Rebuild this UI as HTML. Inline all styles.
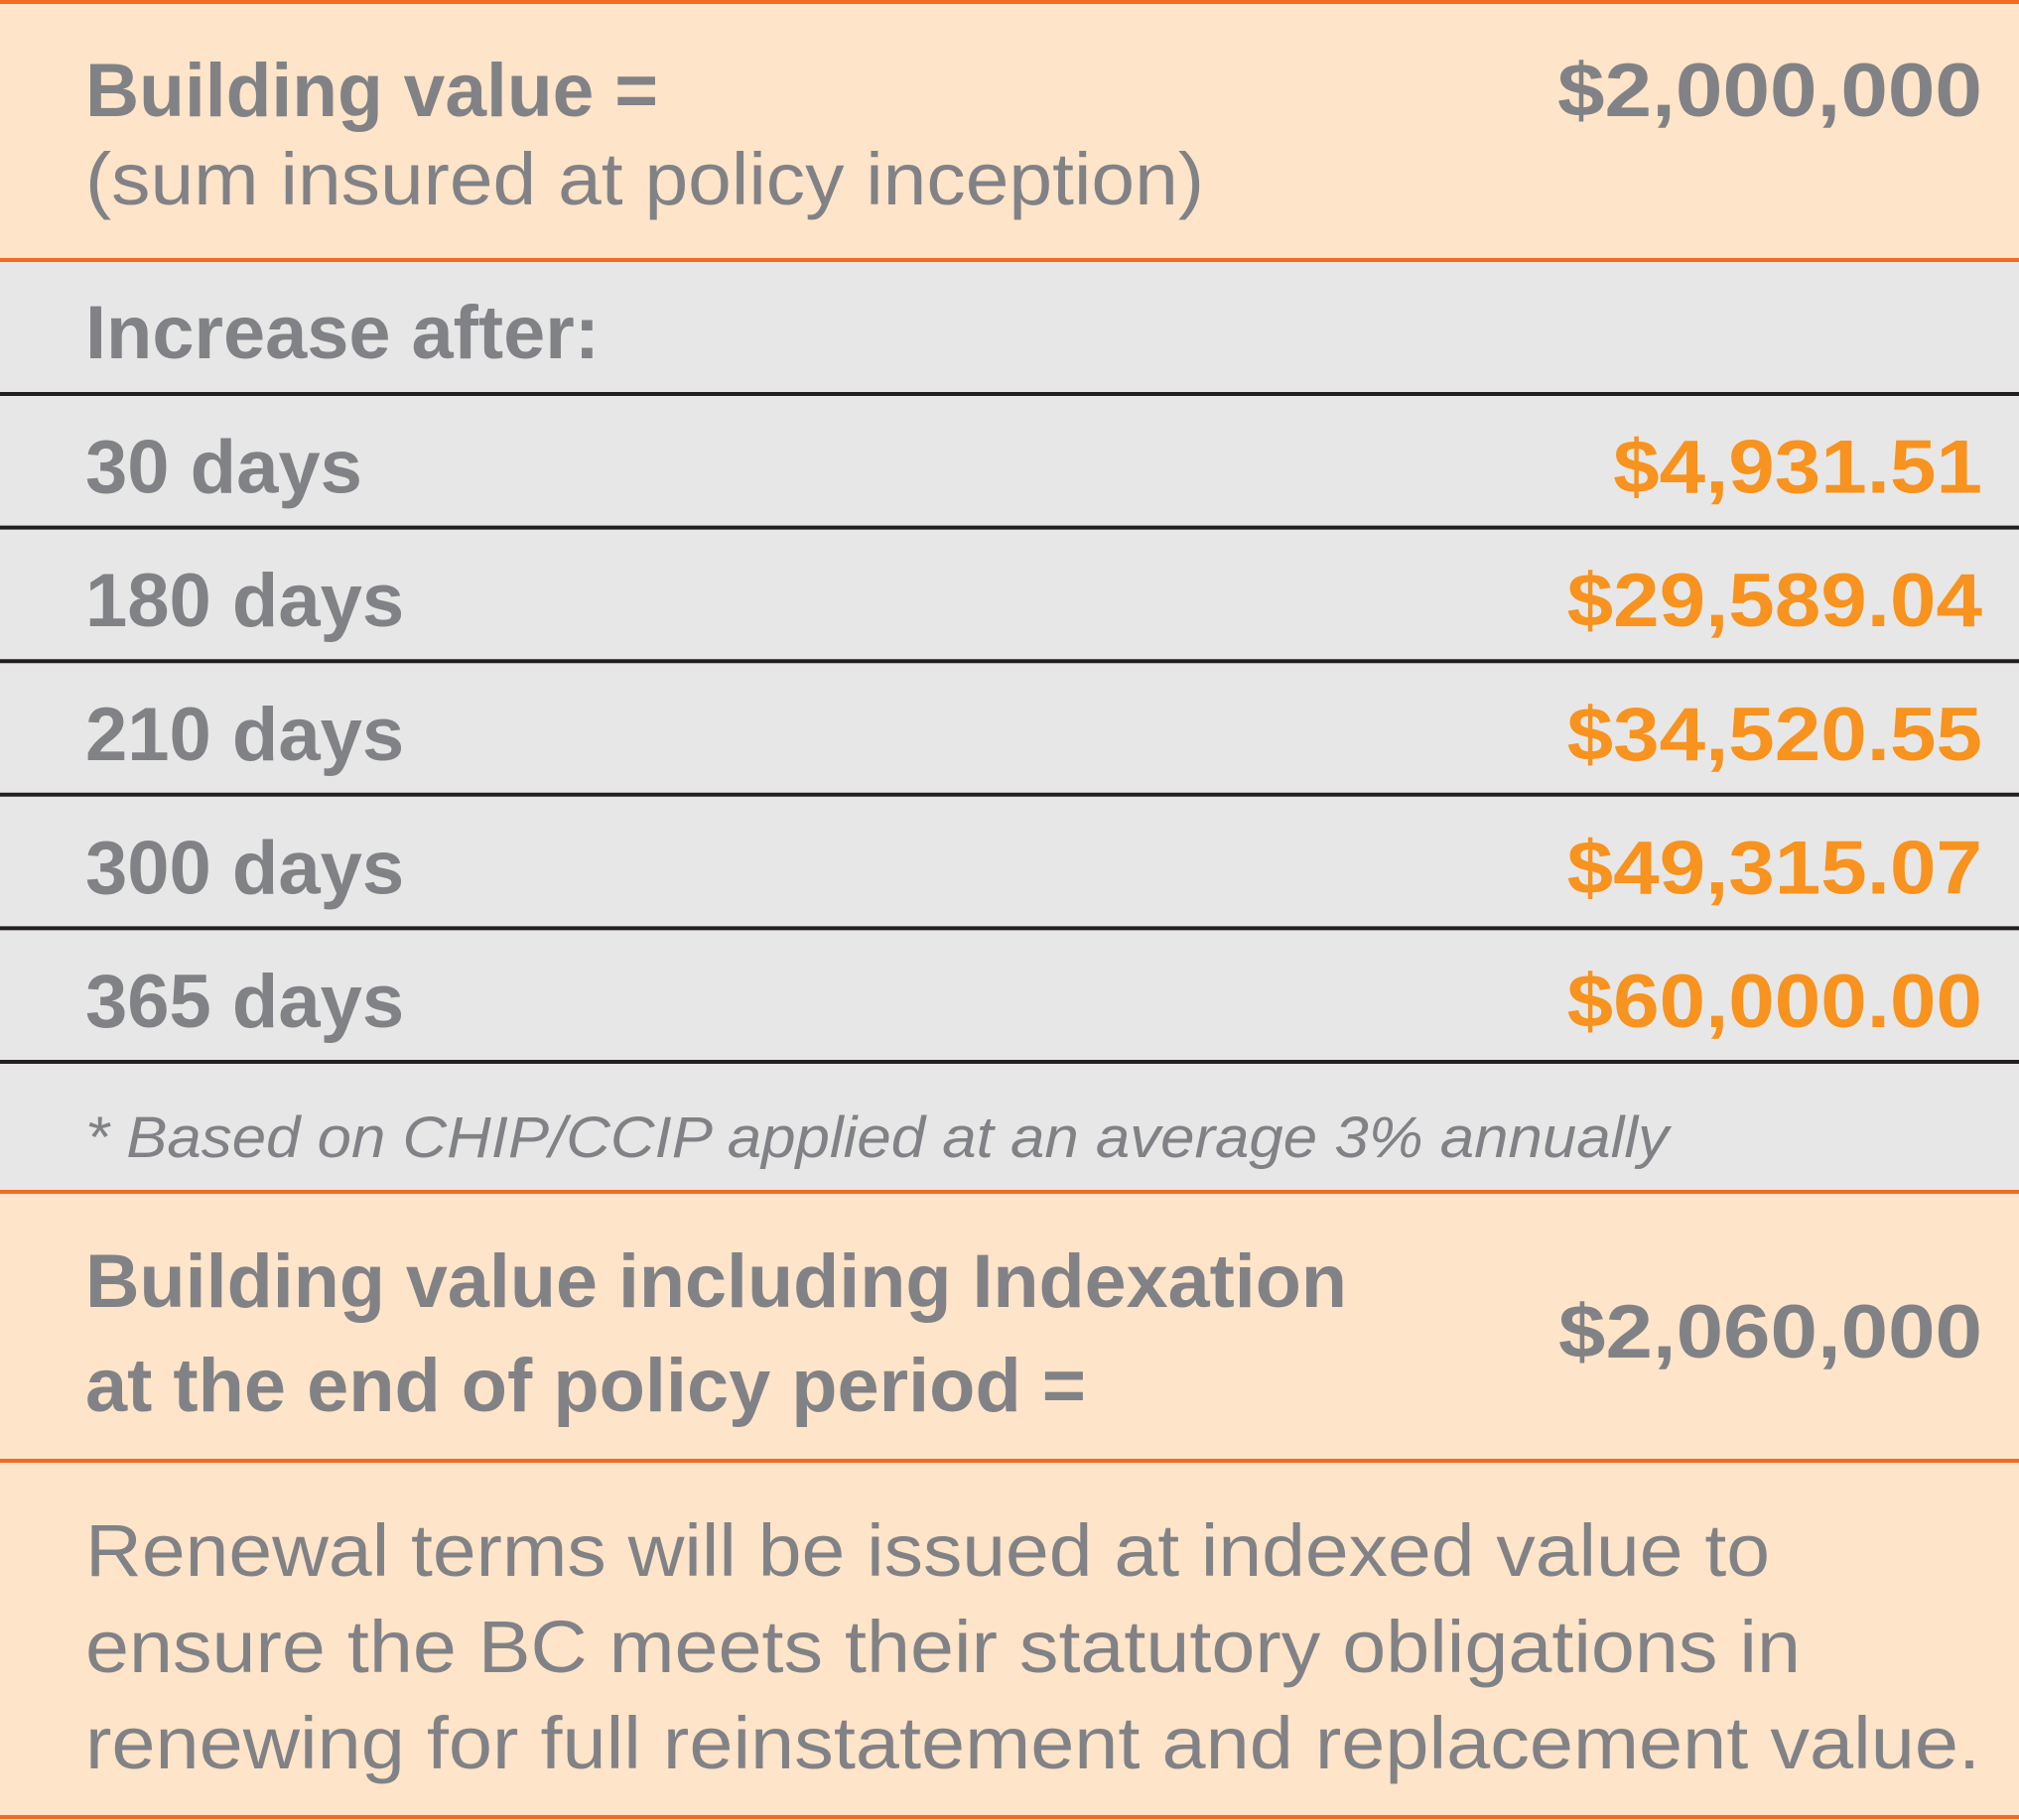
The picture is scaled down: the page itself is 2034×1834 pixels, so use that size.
<!DOCTYPE html>
<html><head><meta charset="utf-8"><style>
html,body{margin:0;padding:0;background:#fff}
svg{display:block}
text{font-family:"Liberation Sans",sans-serif;fill:#818286}
.b{font-weight:bold;font-size:76px}
.r{font-size:74px}
.o{fill:#f7931e}
</style></head><body>
<svg id="tbl" width="2034" height="1834" viewBox="0 0 2034 1834" xmlns="http://www.w3.org/2000/svg">
<rect x="0" y="0" width="2034" height="262" fill="#fee4c9"/>
<rect x="0" y="262" width="2034" height="939" fill="#e7e7e7"/>
<rect x="0" y="1201" width="2034" height="633" fill="#fee4c9"/>
<line x1="0" x2="2034" y1="2" y2="2" stroke="#f26b22" stroke-width="4"/>
<line x1="0" x2="2034" y1="262" y2="262" stroke="#f26b22" stroke-width="4"/>
<line x1="0" x2="2034" y1="1201" y2="1201" stroke="#f26b22" stroke-width="4"/>
<line x1="0" x2="2034" y1="1472" y2="1472" stroke="#f26b22" stroke-width="4"/>
<line x1="0" x2="2034" y1="1831" y2="1831" stroke="#f26b22" stroke-width="4"/>
<line x1="0" x2="2034" y1="397" y2="397" stroke="#231f20" stroke-width="4"/>

<text class="b" x="86" y="117" textLength="577" lengthAdjust="spacingAndGlyphs">Building value =</text>
<text class="r" x="86" y="206" textLength="1127" lengthAdjust="spacingAndGlyphs">(sum insured at policy inception)</text>
<text class="b" x="1997" y="117" text-anchor="end" textLength="428" lengthAdjust="spacingAndGlyphs">$2,000,000</text>
<text class="b" x="86" y="361" textLength="518" lengthAdjust="spacingAndGlyphs">Increase after:</text>
<g id="rows"></g>
<text x="86" y="1166" font-style="italic" font-size="58" textLength="1595" lengthAdjust="spacingAndGlyphs">* Based on CHIP/CCIP applied at an average 3% annually</text>
<text class="b" x="86" y="1317" textLength="1271" lengthAdjust="spacingAndGlyphs">Building value including Indexation</text>
<text class="b" x="86" y="1422" textLength="1008" lengthAdjust="spacingAndGlyphs">at the end of policy period =</text>
<text class="b" x="1997" y="1368" text-anchor="end" textLength="427" lengthAdjust="spacingAndGlyphs">$2,060,000</text>
<text class="r" x="86" y="1588" textLength="1697" lengthAdjust="spacingAndGlyphs">Renewal terms will be issued at indexed value to</text>
<text class="r" x="86" y="1685" textLength="1728" lengthAdjust="spacingAndGlyphs">ensure the BC meets their statutory obligations in</text>
<text class="r" x="86" y="1782" textLength="1909" lengthAdjust="spacingAndGlyphs">renewing for full reinstatement and replacement value.</text>
</svg>
<script>
const dayLabels = ["30 days","180 days","210 days","300 days","365 days"];
const amounts = ["$4,931.51","$29,589.04","$34,520.55","$49,315.07","$60,000.00"];
const NS = "http://www.w3.org/2000/svg";
const g = document.getElementById("rows");
const rowTop = 397, rowH = 134.6, amountStretch = 1.1;
dayLabels.forEach((d, i) => {
  const base = rowTop + rowH * (i + 1);
  const t1 = document.createElementNS(NS, "text");
  t1.setAttribute("class", "b");
  t1.setAttribute("x", 86);
  t1.setAttribute("y", base - 35);
  t1.textContent = d;
  
  
  g.appendChild(t1);
  const t2 = document.createElementNS(NS, "text");
  t2.setAttribute("class", "b o");
  t2.setAttribute("x", 1997);
  t2.setAttribute("y", base - 35);
  t2.setAttribute("text-anchor", "end");
  t2.textContent = amounts[i];
  
  
  g.appendChild(t2);
  const w = t2.getComputedTextLength();
  t2.setAttribute("textLength", (w * amountStretch).toFixed(1));
  t2.setAttribute("lengthAdjust", "spacingAndGlyphs");
  const ln = document.createElementNS(NS, "line");
  ln.setAttribute("x1", 0); ln.setAttribute("x2", 2034);
  ln.setAttribute("y1", base); ln.setAttribute("y2", base);
  ln.setAttribute("stroke", "#231f20"); ln.setAttribute("stroke-width", 4);
  
  
  g.appendChild(ln);
});
</script>
</body></html>
